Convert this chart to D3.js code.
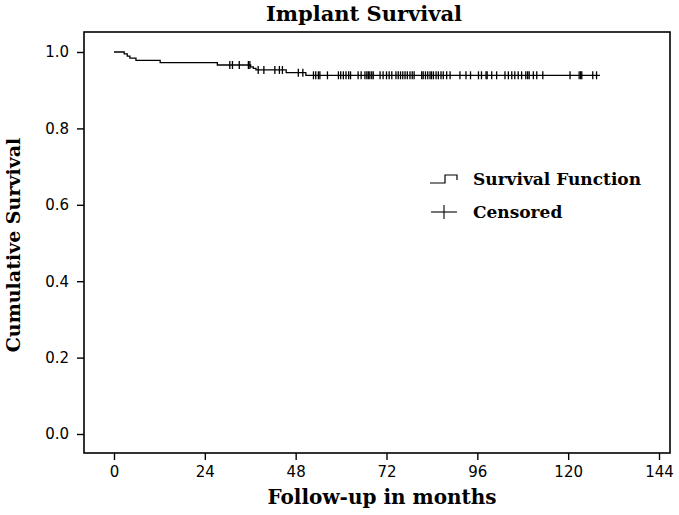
<!DOCTYPE html>
<html>
<head>
<meta charset="utf-8">
<script src="https://cdn.jsdelivr.net/npm/d3@7"></script>
<style>
  body { margin: 0; background: #fff; }
  text { fill: #000; }
</style>
</head>
<body>
<div id="container"></div>
<script>
/* DATA */
const eventMonths = [2.7, 3.5, 4.2, 5.8, 12.2, 27.3, 36.1, 36.8, 37.5, 45.5, 50.7];
const eventSurvival = [0.995, 0.989, 0.984, 0.978, 0.972, 0.966, 0.961, 0.957, 0.953, 0.946, 0.939];
const lastFollowUp = 128.4;
const censoredMonths = [
  30.6, 31.3, 33.1, 35.5, 35.9, 38.1, 39.6, 42.5, 43.7, 44.5, 48.7, 49.9,
  52.7, 53.3, 54.0, 54.4, 56.4, 59.3, 59.9, 60.6, 61.3, 62.0, 62.5, 64.5, 65.3,
  66.3, 66.8, 67.2, 67.6, 68.1, 68.5, 70.3, 71.1, 72.0, 72.7, 73.4, 74.5, 75.1,
  75.7, 76.3, 76.9, 77.5, 78.2, 78.8, 79.3, 81.3, 81.7, 82.3, 82.9, 83.5, 83.9,
  84.4, 85.1, 85.7, 86.4, 87.0, 87.9, 88.8, 91.4, 93.0, 94.2, 96.3, 97.1, 98.3,
  98.6, 99.8, 101.1, 103.3, 104.2, 105.1, 105.9, 106.8, 107.7, 108.8, 109.3,
  109.7, 110.8, 111.7, 113.3, 120.5, 122.9, 123.3, 123.6, 126.5, 127.5
];
const xTicks = [0, 24, 48, 72, 96, 120, 144];
const yTicks = [0, 0.2, 0.4, 0.6, 0.8, 1.0];

/* CONSTANTS */
const width = 679, height = 515;
const frame = { left: 84, top: 32, right: 670, bottom: 453 };
const serif = "'DejaVu Serif', serif";
const sans = "'DejaVu Sans', sans-serif";

/* SCALES */
const xScale = d3.scaleLinear().domain([0, 144]).range([114, 659]);
const yScale = d3.scaleLinear().domain([0, 1]).range([434, 52]);

const svg = d3.select("#container")
  .append("svg")
  .attr("width", width)
  .attr("height", height);

// plot box
svg.append("rect")
  .attr("x", frame.left)
  .attr("y", frame.top)
  .attr("width", frame.right - frame.left)
  .attr("height", frame.bottom - frame.top)
  .attr("fill", "none")
  .attr("stroke", "#000")
  .attr("stroke-width", 1.6);

/* AXES */
const xAxis = d3.axisBottom(xScale)
  .tickValues(xTicks)
  .tickSize(7)
  .tickPadding(6)
  .tickFormat(d3.format("d"));

svg.append("g")
  .attr("transform", `translate(0,${frame.bottom})`)
  .call(xAxis)
  .call(g => g.select(".domain").remove())
  .call(g => g.selectAll("line").attr("stroke-width", 1.4))
  .call(g => g.selectAll("text").attr("font-family", sans).attr("font-size", 15).attr("fill", "#000"));

const yAxis = d3.axisLeft(yScale)
  .tickValues(yTicks)
  .tickSize(7)
  .tickPadding(8)
  .tickFormat(d3.format(".1f"));

svg.append("g")
  .attr("transform", `translate(${frame.left},0)`)
  .call(yAxis)
  .call(g => g.select(".domain").remove())
  .call(g => g.selectAll("line").attr("stroke-width", 1.4))
  .call(g => g.selectAll("text").attr("font-family", sans).attr("font-size", 15).attr("fill", "#000"));

/* TITLES */
svg.append("text")
  .attr("x", 364).attr("y", 21)
  .attr("text-anchor", "middle")
  .attr("font-family", serif).attr("font-weight", "bold").attr("font-size", 21)
  .text("Implant Survival");

svg.append("text")
  .attr("x", 382).attr("y", 504)
  .attr("text-anchor", "middle")
  .attr("font-family", serif).attr("font-weight", "bold").attr("font-size", 20)
  .text("Follow-up in months");

svg.append("text")
  .attr("transform", "translate(20,245) rotate(-90)")
  .attr("text-anchor", "middle")
  .attr("font-family", serif).attr("font-weight", "bold").attr("font-size", 19)
  .text("Cumulative Survival");

/* SURVIVAL CURVE */
const steps = [{ t: 0, s: 1 }]
  .concat(eventMonths.map((t, i) => ({ t, s: eventSurvival[i] })))
  .concat([{ t: lastFollowUp, s: eventSurvival[eventSurvival.length - 1] }]);

const line = d3.line()
  .x(d => xScale(d.t))
  .y(d => yScale(d.s))
  .curve(d3.curveStepAfter);

svg.append("path")
  .datum(steps)
  .attr("d", line)
  .attr("fill", "none")
  .attr("stroke", "#000")
  .attr("stroke-width", 1.3);

const survivalAt = t => {
  const i = d3.bisectRight(eventMonths, t);
  return i === 0 ? 1 : eventSurvival[i - 1];
};

svg.selectAll("line.censor")
  .data(censoredMonths)
  .join("line")
  .attr("class", "censor")
  .attr("x1", d => xScale(d))
  .attr("x2", d => xScale(d))
  .attr("y1", d => yScale(survivalAt(d)) - 4)
  .attr("y2", d => yScale(survivalAt(d)) + 4)
  .attr("stroke", "#000")
  .attr("stroke-width", 1.3);

/* LEGEND */
const legend = svg.append("g").attr("transform", "translate(430,0)");

legend.append("path")
  .attr("d", "M0,183 H15 V175 H27 V180")
  .attr("fill", "none")
  .attr("stroke", "#000")
  .attr("stroke-width", 1.2);

legend.append("text")
  .attr("x", 43).attr("y", 185)
  .attr("font-family", serif).attr("font-weight", "bold").attr("font-size", 17)
  .text("Survival Function");

legend.append("line")
  .attr("x1", 1).attr("x2", 27).attr("y1", 212).attr("y2", 212)
  .attr("stroke", "#000").attr("stroke-width", 1.1);
legend.append("line")
  .attr("x1", 14).attr("x2", 14).attr("y1", 205).attr("y2", 219)
  .attr("stroke", "#000").attr("stroke-width", 1.1);

legend.append("text")
  .attr("x", 43).attr("y", 218)
  .attr("font-family", serif).attr("font-weight", "bold").attr("font-size", 17)
  .text("Censored");
</script>
</body>
</html>
